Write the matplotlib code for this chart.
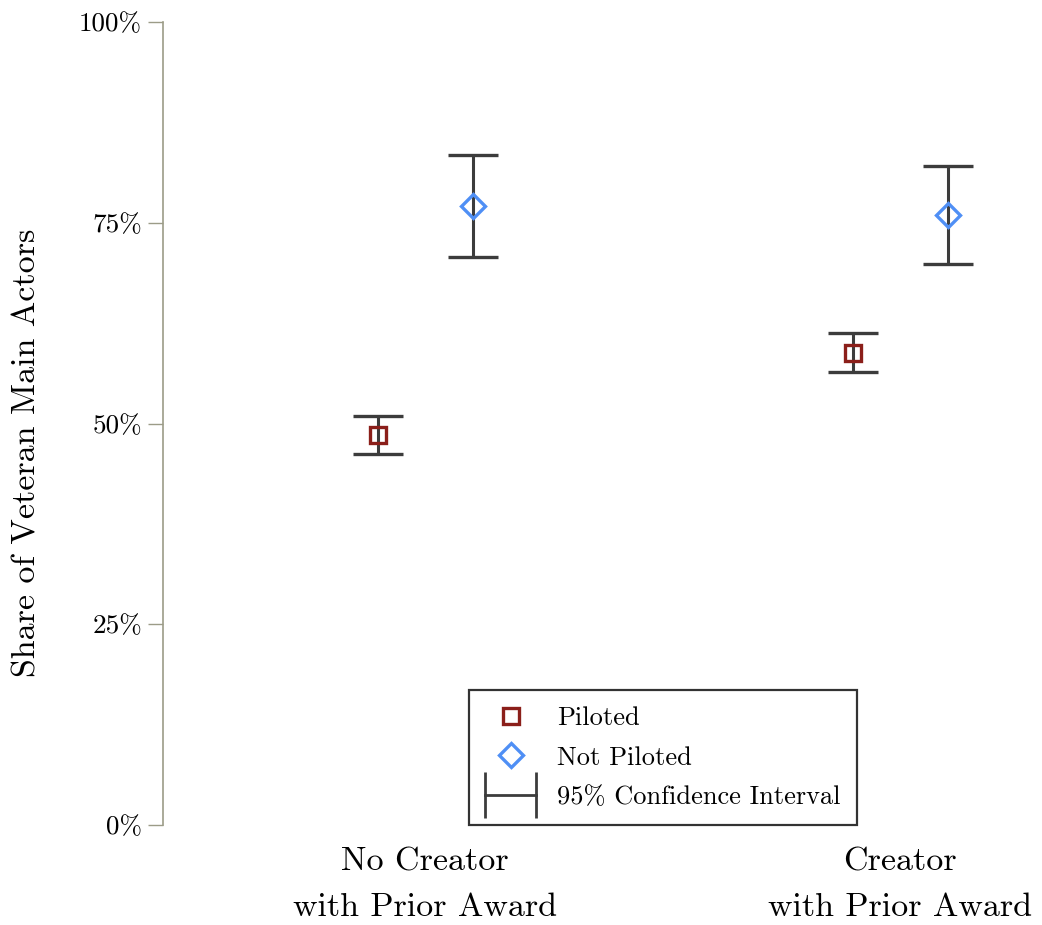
import matplotlib
matplotlib.use("Agg")
import matplotlib.pyplot as plt
from matplotlib.lines import Line2D
from matplotlib.legend_handler import HandlerLine2D

plt.rcParams["font.family"] = ["cmr10", "DejaVu Serif"]
plt.rcParams["axes.formatter.use_mathtext"] = True

# data (share, in %)
groups = ["No Creator\nwith Prior Award", "Creator\nwith Prior Award"]
piloted = [48.6, 58.8]
piloted_lo = [46.2, 56.4]
piloted_hi = [50.9, 61.3]
not_piloted = [77.1, 76.0]
not_piloted_lo = [70.7, 69.9]
not_piloted_hi = [83.4, 82.1]
yticks = [0, 25, 50, 75, 100]
ytick_labels = ["0%", "25%", "50%", "75%", "100%"]

red = "#8b1f1a"
blue = "#4f8ff5"
bar_col = "#3c3c3c"
spine_col = "#9c9c88"

fig = plt.figure(figsize=(10.42, 9.25), dpi=100)
ax = fig.add_axes([163 / 1042, 1 - 825 / 925, 879 / 1042, 803 / 925])

xs = [1, 2]
off = 0.1
xp = [x - off for x in xs]
xn = [x + off for x in xs]

err_p = [[p - l for p, l in zip(piloted, piloted_lo)], [h - p for p, h in zip(piloted, piloted_hi)]]
err_n = [[p - l for p, l in zip(not_piloted, not_piloted_lo)], [h - p for p, h in zip(not_piloted, not_piloted_hi)]]

ax.errorbar(xp, piloted, yerr=err_p, fmt="none", ecolor=bar_col, elinewidth=2.2, capsize=18, capthick=2.4, zorder=2)
ax.errorbar(xn, not_piloted, yerr=err_n, fmt="none", ecolor=bar_col, elinewidth=2.2, capsize=18, capthick=2.4, zorder=2)
ax.plot(xp, piloted, ls="none", marker="s", ms=11.5, mfc="none", mec=red, mew=2.4, zorder=3)
ax.plot(xn, not_piloted, ls="none", marker="D", ms=12.5, mfc="none", mec=blue, mew=2.4, zorder=3)

ax.set_xlim(0.448, 2.298)
ax.set_ylim(0, 100)
ax.set_yticks(yticks)
ax.set_yticklabels(ytick_labels, fontsize=19.5)
ax.set_xticks(xs)
ax.set_xticklabels(groups, fontsize=24.5, linespacing=1.72)
ax.tick_params(axis="x", length=0, pad=16)
ax.tick_params(axis="y", length=11, width=1, color=spine_col, pad=4)

for s in ["top", "right", "bottom"]:
    ax.spines[s].set_visible(False)
ax.spines["left"].set_color(spine_col)
ax.spines["left"].set_linewidth(1.2)

ax.set_ylabel("Share of Veteran Main Actors", fontsize=24.5)
ax.yaxis.set_label_coords(-0.138, 0.464)

h_p = Line2D([], [], ls="none", marker="s", ms=11.5, mfc="none", mec=red, mew=2.4)
h_n = Line2D([], [], ls="none", marker="D", ms=12.5, mfc="none", mec=blue, mew=2.4)
h_ci = Line2D([], [], color=bar_col, lw=2, marker="|", ms=33, mew=2)
leg = ax.legend([h_p, h_n, h_ci], ["Piloted", "Not Piloted", "95% Confidence Interval"],
                loc="lower center", bbox_to_anchor=(1.5, 0), bbox_transform=ax.transData,
                fontsize=19, frameon=True, fancybox=False, edgecolor="black",
                borderaxespad=0, handlelength=1.95, handletextpad=0.8, labelspacing=0.6,
                borderpad=0.6, handler_map={h_ci: HandlerLine2D(numpoints=2, marker_pad=0.0)})
leg.get_frame().set_linewidth(1.6)

fig.savefig("out.png", dpi=100, facecolor="white")
